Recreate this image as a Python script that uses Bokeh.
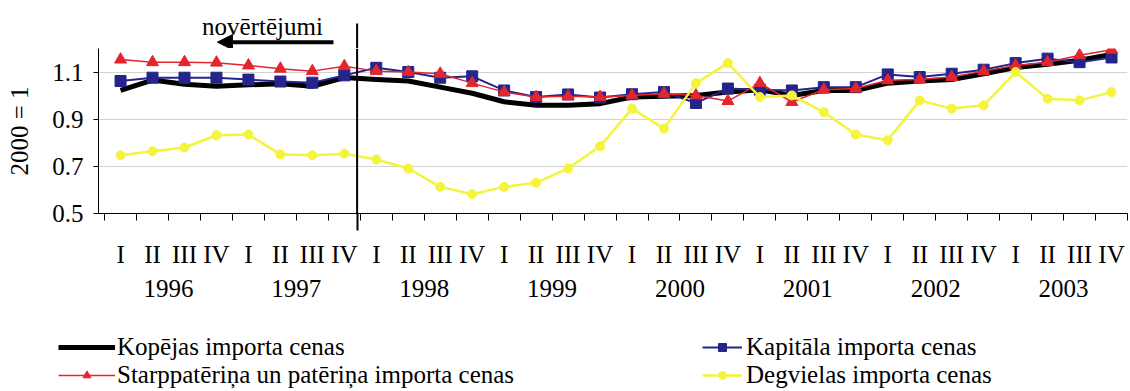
import numpy as np
from bokeh.plotting import figure
from bokeh.layouts import column
from bokeh.models import (Range1d, FixedTicker, LinearAxis, Legend, LegendItem,
                          Arrow, NormalHead, Label, Span)
from bokeh.embed import file_html
from bokeh.resources import INLINE

# ---------------- data ----------------
years = ["1996", "1997", "1998", "1999", "2000", "2001", "2002", "2003"]
quarter_names = ["I", "II", "III", "IV"]
quarter_labels = [q for y in years for q in quarter_names]

kopejas = [1.022, 1.066, 1.048, 1.040, 1.046, 1.050, 1.040, 1.077,
           1.068, 1.062, 1.036, 1.010, 0.974, 0.959, 0.959, 0.966,
           0.994, 0.997, 1.001, 1.015, 1.025, 1.001, 1.022, 1.022,
           1.053, 1.062, 1.068, 1.093, 1.119, 1.133, 1.150, 1.175]
kapitala = [1.062, 1.076, 1.076, 1.076, 1.068, 1.060, 1.055, 1.086,
            1.118, 1.100, 1.076, 1.082, 1.022, 0.994, 1.005, 0.992,
            1.006, 1.015, 0.969, 1.030, 1.025, 1.022, 1.036, 1.036,
            1.090, 1.079, 1.093, 1.110, 1.138, 1.157, 1.142, 1.162]
starppaterina = [1.153, 1.142, 1.142, 1.140, 1.128, 1.114, 1.104, 1.125,
                 1.104, 1.100, 1.093, 1.053, 1.015, 0.994, 0.997, 0.994,
                 1.001, 1.008, 1.001, 0.977, 1.053, 0.973, 1.025, 1.030,
                 1.065, 1.068, 1.079, 1.104, 1.128, 1.142, 1.171, 1.195]
degvielas = [0.747, 0.764, 0.780, 0.832, 0.835, 0.751, 0.747, 0.754,
             0.729, 0.691, 0.613, 0.582, 0.613, 0.630, 0.691, 0.785,
             0.945, 0.860, 1.053, 1.138, 0.994, 1.001, 0.930, 0.835,
             0.811, 0.980, 0.945, 0.959, 1.100, 0.987, 0.980, 1.015]
y_ticks = [0.5, 0.7, 0.9, 1.1]

series_names = ["Kopējas importa cenas",
                "Starppatēriņa un patēriņa importa cenas",
                "Kapitāla importa cenas",
                "Degvielas importa cenas"]
estimate_text = "novērtējumi"
y_title = "2000 = 1"

# ---------------- styling ----------------
FONT = "Liberation Serif"
FS = "25px"
BLACK = "#000000"
BLUE = "#24248c"
RED = "#e3262e"
YEL = "#f4f43c"

W = 1130
LEFT, RIGHT = 98, 3
TOP_H, MAIN_H, LEG_H = 48, 277, 66
Y0, Y1 = 0.5, 1.2
MAIN_BOTTOM = 112
px_per_unit = (MAIN_H - MAIN_BOTTOM) / (Y1 - Y0)

n = len(quarter_labels)
x = [int(i) for i in np.arange(n)]
x_range = Range1d(-0.69, n - 0.5)
split = 7.4  # boundary of the estimates period


def bare(fig):
    fig.outline_line_color = None
    fig.background_fill_color = "white"
    fig.border_fill_color = "white"
    fig.grid.visible = False


# ---------------- top strip: estimate note ----------------
top = figure(width=W, height=TOP_H, output_backend="svg", toolbar_location=None,
             x_range=x_range, y_range=Range1d(Y1, Y1 + TOP_H / px_per_unit),
             min_border_left=LEFT, min_border_right=RIGHT, min_border_top=0,
             min_border_bottom=0, x_axis_location=None, y_axis_location=None)
bare(top)
top.add_layout(Arrow(start=None, end=None, x_start=split, y_start=Y1,
                     x_end=split, y_end=1.306, line_color="black", line_width=2))
top.add_layout(Arrow(end=NormalHead(size=15, fill_color="black", line_color="black"),
                     x_start=6.66, y_start=1.227, x_end=3.03, y_end=1.227,
                     line_color="black", line_width=4))
top.add_layout(Label(x=4.44, y=1.294, text=estimate_text, text_align="center",
                     text_baseline="alphabetic", text_font=FONT,
                     text_font_size=FS, text_color="black"))

# ---------------- main chart ----------------
p = figure(width=W, height=MAIN_H, output_backend="svg", toolbar_location=None,
           x_range=x_range, y_range=Range1d(Y0, Y1),
           min_border_left=LEFT, min_border_right=RIGHT, min_border_top=0,
           min_border_bottom=MAIN_BOTTOM)
p.outline_line_color = None
p.background_fill_color = "white"
p.border_fill_color = "white"

p.add_layout(Span(location=split, dimension="height", line_color="black",
                  line_width=2))


def draw_series(fig):
    r = {}
    r["black"] = fig.line(x, kopejas, line_color=BLACK, line_width=5, line_join="round")
    r["blue_l"] = fig.line(x, kapitala, line_color=BLUE, line_width=2)
    r["blue_m"] = fig.scatter(x, kapitala, marker="square", size=11,
                              fill_color=BLUE, line_color=BLUE)
    r["red_l"] = fig.line(x, starppaterina, line_color=RED, line_width=1.5)
    r["red_m"] = fig.scatter(x, starppaterina, marker="triangle", size=12,
                             fill_color=RED, line_color=RED)
    r["yel_l"] = fig.line(x, degvielas, line_color=YEL, line_width=2.5)
    r["yel_m"] = fig.scatter(x, degvielas, marker="circle", size=9,
                             fill_color=YEL, line_color=YEL)
    return r


draw_series(p)

# y axis
yt = FixedTicker(ticks=y_ticks)
p.yaxis.ticker = yt
p.ygrid.ticker = yt
p.ygrid.grid_line_color = "#d2d2d2"
p.xgrid.visible = False
ya = p.yaxis[0]
ya.axis_label = y_title
ya.axis_label_text_font = FONT
ya.axis_label_text_font_size = FS
ya.axis_label_text_font_style = "normal"
ya.axis_label_text_color = "black"
ya.axis_label_standoff = 16
ya.major_label_text_font = FONT
ya.major_label_text_font_size = FS
ya.major_label_text_color = "black"
ya.major_label_standoff = 10
ya.major_tick_out = 5
ya.major_tick_in = 0
ya.minor_tick_line_color = None
ya.axis_line_color = "black"
ya.major_tick_line_color = "black"

# x axis line with boundary ticks; the long tick continues the split line
xa = p.xaxis[0]
xa.ticker = FixedTicker(ticks=[split], minor_ticks=[i - 0.5 for i in range(n + 1)])
xa.major_label_overrides = {split: ""}
xa.major_label_text_font_size = "1px"
xa.major_label_standoff = 0
xa.major_tick_line_color = "black"
xa.major_tick_line_width = 2
xa.major_tick_out = 17
xa.major_tick_in = 0
xa.minor_tick_line_color = "black"
xa.minor_tick_out = 7
xa.minor_tick_in = 0
xa.axis_line_color = "black"

# quarter labels
qax = LinearAxis(ticker=FixedTicker(ticks=x),
                 major_label_overrides={i: q for i, q in zip(x, quarter_labels)},
                 axis_line_color=None, major_tick_line_color=None,
                 minor_tick_line_color=None, major_tick_out=0, major_tick_in=0,
                 major_label_standoff=10, major_label_text_font=FONT,
                 major_label_text_font_size=FS, major_label_text_color="black")
p.add_layout(qax, "below")

# year labels
year_ticks = [4 * i + 1.5 for i in range(len(years))]
yax = LinearAxis(ticker=FixedTicker(ticks=year_ticks),
                 major_label_overrides=dict(zip(year_ticks, years)),
                 axis_line_color=None, major_tick_line_color=None,
                 minor_tick_line_color=None, major_tick_out=0, major_tick_in=0,
                 major_label_standoff=9, major_label_text_font=FONT,
                 major_label_text_font_size=FS, major_label_text_color="black")
p.add_layout(yax, "below")

# ---------------- legend strip ----------------
# same series drawn again, but outside this strip's visible range, so that
# only the legend samples show
lg = figure(width=W, height=LEG_H, output_backend="svg", toolbar_location=None,
            x_range=Range1d(0, 1), y_range=Range1d(5, 6),
            min_border_left=0, min_border_right=0, min_border_top=0,
            min_border_bottom=0, x_axis_location=None, y_axis_location=None)
lg.frame_align = False
bare(lg)
k = draw_series(lg)

common = dict(padding=0, margin=0, spacing=-3, border_line_color=None,
              background_fill_alpha=0, label_text_font=FONT,
              label_text_font_size=FS, label_text_color="black",
              glyph_height=20, label_height=20)
leg_left = Legend(items=[LegendItem(label=series_names[0], renderers=[k["black"]]),
                         LegendItem(label=series_names[1], renderers=[k["red_l"], k["red_m"]])],
                  location=(58, 2), glyph_width=57, label_standoff=2, **common)
leg_right = Legend(items=[LegendItem(label=series_names[2], renderers=[k["blue_l"], k["blue_m"]]),
                          LegendItem(label=series_names[3], renderers=[k["yel_l"], k["yel_m"]])],
                   location=(702, 2), glyph_width=40, label_standoff=4, **common)
lg.add_layout(leg_left)
lg.add_layout(leg_right)

layout = column(top, p, lg, spacing=0)
open("out.html", "w").write(file_html(layout, INLINE))
